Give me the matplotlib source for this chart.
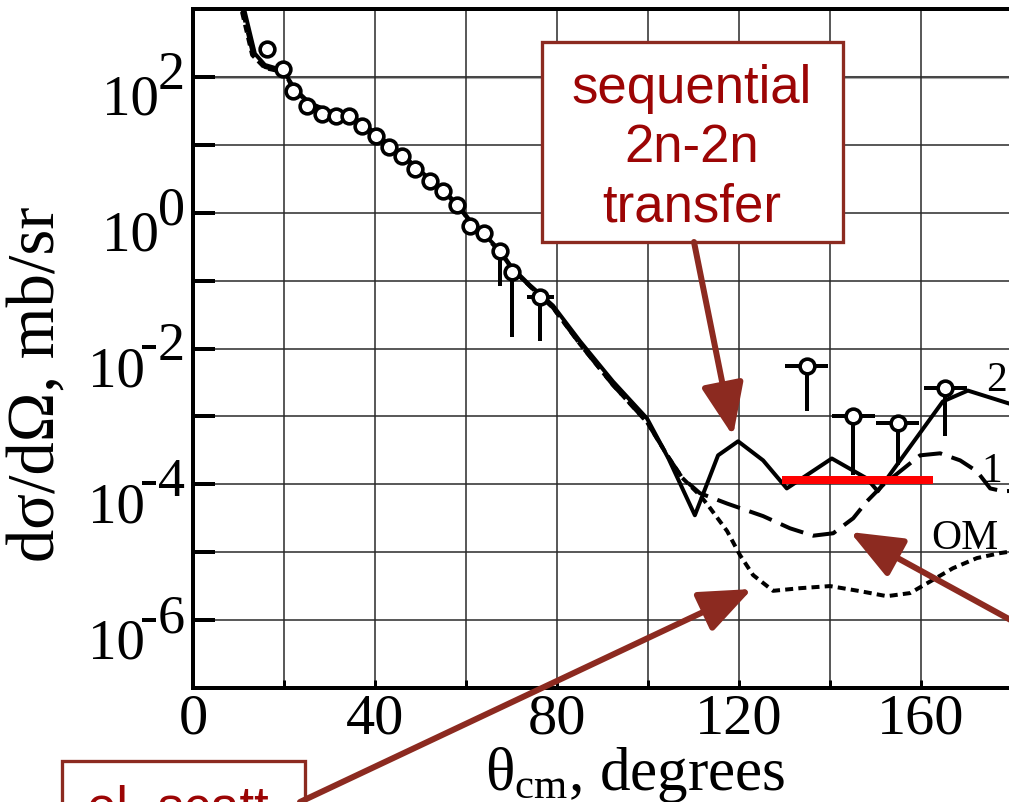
import matplotlib
matplotlib.use('Agg')
import matplotlib.pyplot as plt
from matplotlib.patches import Rectangle, FancyArrowPatch
from matplotlib.ticker import NullLocator

plt.rcParams['font.family'] = ['Liberation Serif', 'DejaVu Serif']
plt.rcParams['mathtext.fontset'] = 'custom'
plt.rcParams['mathtext.rm'] = 'Liberation Serif'
plt.rcParams['mathtext.it'] = 'Liberation Serif:italic'

# calculation 2 (full, with sequential 2n-2n transfer), deg / mb/sr
theta_c2 = [10.6, 13.6, 15.8, 19.8, 22.4, 25.7, 30.1, 34.5, 37.8, 40.6, 43.1, 46.0,
            49.0, 52.1, 55.0, 58.0, 61.0, 64.0, 67.4, 70.1, 74.1, 79.1, 85.1, 92.3,
            99.8, 104.5, 110.3, 115.4, 119.8, 125.3, 130.5, 140.4, 148.1, 150.5,
            164.8, 170.3, 180.0]
sigma_c2 = [1500, 220, 150, 125, 66, 41, 31, 27, 19.5, 14, 10, 7.2,
            4.7, 3.1, 2.15, 1.35, 0.75, 0.48, 0.28, 0.155, 0.085, 0.043, 0.0127, 3.27e-3,
            9.3e-4, 2.4e-4, 3.5e-5, 2.67e-4, 4.3e-4, 2.25e-4, 8.7e-5, 2.4e-4, 1.22e-4, 7.9e-5,
            1.66e-3, 2.4e-3, 1.5e-3]

# calculation 1
theta_c1 = [10.2, 13.2, 15.8, 19.8, 22.4, 25.7, 30.1, 34.5, 37.8, 40.6, 43.1, 46.0,
            49.0, 52.1, 55.0, 58.0, 61.0, 64.0, 67.4, 70.1, 74.1, 79.1, 85.1, 92.3,
            99.8, 104.5, 107.5, 111.4, 117.4, 125.3, 131.2, 136.3, 140.7, 145.1, 148.1,
            151.6, 155.4, 159.8, 164.2, 168.6, 172.3, 175.2, 178.0, 180.0]
sigma_c1 = [1500, 215, 140, 120, 64, 40, 30.5, 26.5, 19, 13.6, 9.8, 7.0,
            4.6, 3.0, 2.1, 1.3, 0.73, 0.46, 0.27, 0.15, 0.082, 0.040, 0.0115, 2.9e-3,
            8.2e-4, 2.5e-4, 1.25e-4, 7.4e-5, 5.2e-5, 3.4e-5, 2.25e-5, 1.75e-5, 1.9e-5, 3.16e-5, 5.6e-5,
            9.7e-5, 1.55e-4, 2.67e-4, 2.86e-4, 2.25e-4, 1.55e-4, 8.7e-5, 7.9e-5, 8.0e-5]

# optical model (elastic scattering only)
theta_om = [10.0, 13.0, 15.8, 19.8, 22.4, 25.7, 30.1, 34.5, 37.8, 40.6, 43.1, 46.0,
            49.0, 52.1, 55.0, 58.0, 61.0, 64.0, 67.4, 70.1, 74.1, 79.1, 85.1, 92.3,
            99.8, 104.5, 107.5, 111.4, 113.2, 117.4, 120.2, 123.1, 127.5, 133.4, 140.0,
            146.6, 152.5, 157.6, 162.0, 167.0, 172.3, 177.4, 180.0]
sigma_om = [1500, 210, 135, 118, 63, 40, 30.5, 26.5, 19, 13.6, 9.8, 7.0,
            4.6, 3.0, 2.1, 1.3, 0.73, 0.46, 0.27, 0.15, 0.082, 0.040, 0.0115, 2.9e-3,
            8.2e-4, 2.5e-4, 1.25e-4, 6.9e-5, 4.9e-5, 2.04e-5, 9.1e-6, 4.6e-6, 2.7e-6, 2.95e-6, 3.17e-6,
            2.67e-6, 2.25e-6, 2.5e-6, 3.7e-6, 5.8e-6, 8.2e-6, 9.7e-6, 1.03e-5]

# measured points
exp_theta = [16.3, 19.8, 22.0, 25.1, 28.4, 31.4, 34.3, 37.1, 40.2, 43.1, 45.9, 48.8,
             52.1, 54.9, 58.0, 60.9, 64.0, 67.4, 70.1, 76.3, 134.9, 145.1, 154.9, 165.3]
exp_sigma = [258, 131, 62, 37.5, 28.6, 26.7, 26.7, 19.0, 13.5, 9.35, 6.9, 4.4,
             2.96, 2.1, 1.31, 0.64, 0.51, 0.27, 0.135, 0.058, 5.6e-3, 1.0e-3, 7.9e-4, 2.58e-3]
exp_err_lo = [0, 0, 0, 0, 0, 0, 0, 0, 0, 0, 0, 0,
              0, 0, 0, 0, 0, 0.188, 0.12, 0.0453, 4.38e-3, 8.64e-4, 6.0e-4, 2.06e-3]
exp_dtheta = [0, 0, 0, 0, 0, 0, 0, 0, 0, 0, 0, 0,
              0, 0, 0, 0, 0, 0, 0, 3.0, 4.7, 4.7, 4.7, 4.7]

# backward-angle level marked in red
red_theta = [129.5, 162.6]
red_sigma = [1.15e-4, 1.15e-4]

W, H = 1009, 803
PX = 0.72  # points per pixel at dpi 100
dark_red = '#8c2a20'
text_red = '#9c0505'


def fpx(x, y):
    return (x / W, 1 - y / H)


fig = plt.figure(figsize=(W / 100, H / 100), dpi=100)
ax = fig.add_axes([193 / W, 1 - 689 / H, (1012 - 193) / W, (689 - 10) / H])

ax.plot(theta_om, sigma_om, color='black', lw=4 * PX, dashes=(2.0, 1.3), zorder=3)
ax.plot(theta_c1, sigma_c1, color='black', lw=4 * PX, dashes=(6.0, 2.5), zorder=3)
ax.plot(theta_c2, sigma_c2, color='black', lw=4 * PX, zorder=4)
ax.plot(red_theta, red_sigma, color='red', lw=8 * PX, solid_capstyle='butt', zorder=5)

ax.errorbar(exp_theta, exp_sigma,
            yerr=[exp_err_lo, [0] * len(exp_sigma)], xerr=exp_dtheta,
            fmt='o', ms=10.6, mew=2.6, mfc='white', mec='black',
            ecolor='black', elinewidth=4 * PX, capsize=0, zorder=6)

ax.text(176.5, 3.5e-3, '2', fontsize=30, ha='center', va='center', zorder=7)
ax.text(175.6, 1.6e-4, '1', fontsize=30, ha='center', va='center', zorder=7)
ax.text(169.7, 1.66e-5, 'OM', fontsize=30, ha='center', va='center', zorder=7)

ax.set_yscale('log')
ax.set_xlim(0, 180)
ax.set_ylim(1e-7, 1e3)
ax.set_yticks([10.0 ** k for k in range(-7, 4)])
ax.set_yticklabels([])
ax.yaxis.set_minor_locator(NullLocator())
ax.set_xticks(range(0, 181, 20))
ax.set_xticklabels(['0', '', '40', '', '80', '', '120', '', '160', ''])
ax.tick_params(axis='y', direction='in', length=22 * PX, width=4 * PX)
ax.tick_params(axis='x', direction='in', length=8 * PX, width=3 * PX,
               labelsize=42, pad=3)
ax.grid(True, color='#2a2a2a', lw=1.1)
ax.axhline(1e2, color='#a8a8a8', lw=2.2, zorder=1)
for s in ax.spines.values():
    s.set_linewidth(4 * PX)

# decade labels with raised exponents
for k in range(-6, 3, 2):
    sup = ax.annotate(str(k), xy=(0, 10.0 ** k), xycoords=('axes fraction', 'data'),
                      xytext=(-8 * PX, -11 * PX), textcoords='offset points',
                      ha='right', va='baseline', fontsize=39, annotation_clip=False)
    ax.annotate('10', xy=(0, 10.0 ** k), xycoords=(sup, 'data'),
                xytext=((5 if k < 0 else 1) * PX, -37 * PX), textcoords='offset points',
                ha='right', va='baseline', fontsize=41, annotation_clip=False)

ax.set_ylabel('dσ/dΩ, mb/sr', fontsize=48)
ax.yaxis.set_label_coords(-0.153, 0.449)
ax.set_xlabel(r'$\mathrm{\theta_{cm}}$, degrees', fontsize=44)
ax.xaxis.set_label_coords(0.540, -0.082)

# callout boxes
fig.add_artist(Rectangle(fpx(542, 243), (843 - 542) / W, (243 - 43) / H,
                         transform=fig.transFigure, facecolor='white',
                         edgecolor=dark_red, lw=3.3 * PX, zorder=10))
for line, yb in zip(['sequential', '2n-2n', 'transfer'], [103, 162, 222]):
    fig.text(*fpx(692, yb), line, family='Liberation Sans', fontsize=38,
             color=text_red, ha='center', va='baseline', zorder=11)

fig.add_artist(Rectangle(fpx(62, 840), (305 - 62) / W, (840 - 762) / H,
                         transform=fig.transFigure, facecolor='white',
                         edgecolor=dark_red, lw=3.3 * PX, zorder=10))
fig.text(*fpx(87, 824), 'el. scatt.', family='Liberation Sans', fontsize=38,
         color=text_red, ha='left', va='baseline', zorder=11)

# arrows
for start, tip in [((694, 243), (733, 437)),
                   ((300, 803), (752, 590)),
                   ((1060, 648), (850, 533))]:
    fig.add_artist(FancyArrowPatch(fpx(*start), fpx(*tip), transform=fig.transFigure,
                                   arrowstyle='-|>,head_length=32,head_width=13',
                                   mutation_scale=1, lw=6 * PX, color=dark_red,
                                   shrinkA=0, shrinkB=0, zorder=12))

fig.savefig('out.png', dpi=100)
